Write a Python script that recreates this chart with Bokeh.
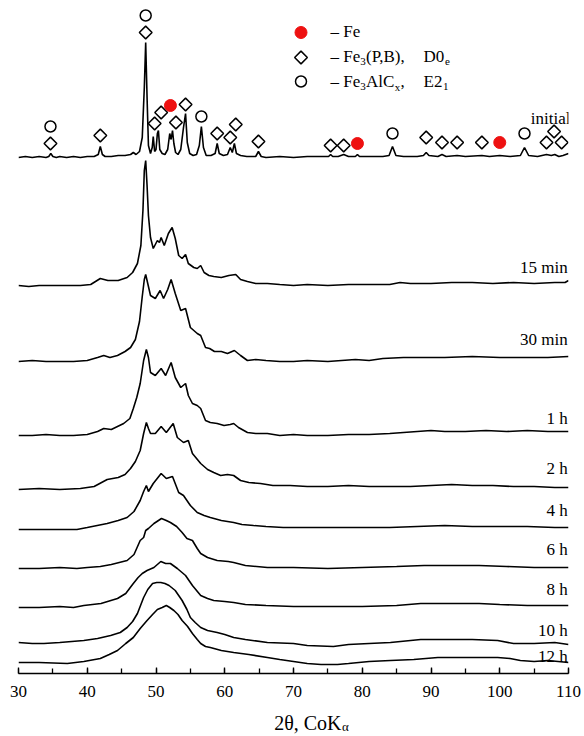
import numpy as np
from bokeh.plotting import figure
from bokeh.layouts import column
from bokeh.models import Range1d, SingleIntervalTicker, ColumnDataSource
from bokeh.core.properties import value
from bokeh.embed import file_html
from bokeh.resources import INLINE

FONT = "Liberation Serif"

# ---------------- data (2theta in degrees, intensity in arbitrary units) ----------------
tt_initial = [30, 31, 32, 33, 34, 34.4, 34.7, 35.0, 35.5, 36, 37, 38, 39, 40, 41, 41.6, 41.9, 42.2, 42.6,
              43.5, 44.5, 45.5, 46.3, 46.7, 47.1, 47.6, 48.0, 48.3, 48.5, 48.7, 48.9, 49.2, 49.45, 49.6,
              49.8, 50.0, 50.2, 50.35, 50.55, 50.9, 51.3, 51.7, 52.0, 52.2, 52.4, 52.6, 52.85, 53.2, 53.6,
              54.0, 54.3, 54.55, 54.9, 55.4, 55.9, 56.3, 56.6, 56.9, 57.3, 58.0, 58.6, 58.9, 59.2, 59.8,
              60.4, 60.8, 61.1, 61.4, 61.7, 62.3, 63.2, 64.5, 64.9, 65.3, 66, 68, 70, 72, 74, 75.1, 75.4,
              75.7, 76.5, 77.3, 78, 79.0, 79.3, 79.6, 81, 83, 83.9, 84.4, 84.9, 86, 88, 88.9, 89.3, 89.7,
              91, 91.6, 92.2, 93.8, 95, 97.4, 98.5, 100, 101.5, 103.0, 103.6, 104.2, 105.5, 106.8, 107.5,
              108.0, 108.6, 109.2, 110]
i_initial = [0, 1, 0, 1, 0, 1, 4, 1, 0, 1, 0, 1, 0, 1, 1, 3, 11, 3, 1,
             1, 2, 2, 3, 5, 3, 6, 20, 70, 115, 60, 12, 4, 10, 21,
             6, 8, 24, 27, 8, 4, 3, 8, 24, 18, 27, 14, 5, 3, 8,
             30, 44, 15, 4, 2, 3, 12, 31, 10, 2, 2, 4, 14, 4, 2,
             3, 10, 5, 14, 4, 2, 1, 1, 6, 1, 0, 1, 0, 1, 1, 1, 3,
             1, 1, 3, 1, 1, 3, 1, 1, 1, 2, 11, 2, 1, 1, 2, 5, 2,
             1, 3, 1, 2, 1, 2, 1, 2, 1, 2, 10, 2, 1, 3, 2,
             3, 1, 2, 4]

tt_15min = [30, 31.5, 33, 35, 37, 39, 40.5, 41.9, 43, 44.5, 45.8, 46.6, 47.3, 47.8, 48.1, 48.3, 48.5, 48.7,
            48.9, 49.2, 49.6, 50.2, 50.5, 50.75, 51.2, 51.8, 52.35, 52.8, 53.3, 53.8, 54.3, 54.7, 55.5,
            56.0, 56.5, 57.0, 57.7, 58.4, 59.5, 60.6, 61.6, 62.3, 63.3, 64.5, 66.2, 68, 70, 72, 75, 78,
            81, 84, 85.5, 87, 90, 93, 96, 99, 102, 105, 108, 109.5, 110]
i_15min = [0, -1, 0, 0, 0, 0, 1, 7, 5, 5, 8, 13, 22, 40, 75, 115, 125, 100,
           70, 48, 37, 45, 43, 48, 40, 52, 58, 47, 30, 27, 31, 22, 18,
           17, 20, 13, 10, 9, 8, 10, 11, 6, 4, 2, 2, 1, 0, 1, 0, 1,
           1, 1, 3, 2, 2, 3, 3, 2, 3, 2, 3, 3, 5]

tt_30min = [30, 32, 34, 36, 38, 40, 41.5, 42.4, 43.3, 44.4, 45.5, 46.3, 47.0, 47.6, 48.0, 48.3, 48.5, 48.8,
            49.2, 49.9, 50.6, 51.1, 51.7, 52.2, 52.8, 53.6, 54.3, 55.0, 56.0, 56.5, 57.2, 57.8, 58.5,
            59.5, 60.4, 61.4, 62.3, 63.3, 64.5, 66, 68, 70, 72, 75, 77, 79, 81, 83, 86, 89, 92, 96,
            100, 104, 107, 110]
i_30min = [0, 1, 0, 0, 0, 1, 4, 6, 4, 6, 10, 14, 22, 40, 65, 82, 87, 78,
           66, 63, 71, 63, 72, 82, 68, 51, 53, 34, 28, 26, 14, 13, 10,
           10, 8, 11, 6, 1, 2, 1, 0, 0, 1, 0, 1, 2, 1, 3, 4, 4, 4, 5,
           4, 4, 4, 5]

tt_1h = [30, 32, 34, 36, 38, 40, 41.5, 42.4, 43.5, 45.3, 46.2, 46.7, 47.2, 47.7, 48.2, 48.6, 48.9, 49.2,
         49.9, 50.75, 51.4, 52.2, 52.8, 53.6, 54.3, 54.7, 55.3, 56.0, 56.5, 57.2, 57.9, 58.9, 59.9,
         60.8, 61.3, 62.0, 63.3, 64.5, 66.2, 68, 70, 72, 75, 78, 81, 84, 86, 88, 90, 92, 95, 98, 101,
         104, 107, 110]
i_1h = [0, 0, 1, 0, 0, 1, 4, 7, 6, 12, 17, 27, 38, 52, 75, 86, 78, 63,
        60, 67, 60, 73, 58, 48, 52, 40, 32, 30, 27, 15, 13, 12, 10,
        11, 12, 8, 3, 2, 2, 0, 1, 0, 0, 1, 1, 2, 3, 4, 5, 4, 4, 5, 4,
        5, 4, 4]

tt_2h = [30, 33, 36, 39, 41, 42.9, 44.5, 45.5, 46.3, 47.0, 47.7, 48.2, 48.6, 48.9, 49.2, 49.9, 50.75,
         51.5, 52.5, 53.1, 54.0, 54.7, 55.3, 56.5, 57.5, 58.4, 59.4, 60.4, 61.3, 62.3, 63.5, 65.2,
         67, 69.5, 72, 75, 78, 81, 84, 87, 90, 93, 96, 99, 102, 105, 108, 110]
i_2h = [0, 1, 0, 1, 3, 10, 12, 15, 21, 28, 39, 56, 67, 61, 56, 56, 63,
        57, 66, 52, 47, 49, 36, 26, 20, 17, 14, 15, 14, 9, 7, 6,
        4, 4, 3, 3, 4, 3, 3, 3, 4, 5, 4, 4, 3, 3, 2, 2]

tt_4h = [30, 33, 36, 38.5, 40, 42.9, 44.5, 45.8, 46.8, 47.7, 48.2, 48.6, 48.9, 49.6, 50.75, 51.5, 52.4,
         53.3, 54.0, 55.0, 56.0, 57.0, 57.9, 59.5, 61.3, 62.5, 64.2, 66, 68.5, 72, 76, 80, 84, 88,
         92, 96, 100, 104, 108, 110]
i_4h = [0, 0, 0, 0, 2, 6, 9, 12, 18, 29, 38, 44, 38, 46, 56, 51, 53,
        37, 34, 24, 17, 14, 12, 9, 7, 5, 4, 3, 2, 2, 2, 2, 2, 3,
        4, 3, 3, 3, 2, 2]

tt_6h = [30, 33, 36, 38.5, 40, 41.9, 43.5, 45.8, 46.8, 47.7, 48.2, 48.5, 48.9, 49.7, 50.8, 51.5, 52.1,
         53.0, 53.8, 54.5, 55.3, 56.0, 56.5, 57.5, 58.9, 60.5, 61.3, 63, 66.2, 70, 75, 80, 85, 89,
         93, 97, 101, 105, 110]
i_6h = [0, 0, 1, 0, 1, 2, 4, 8, 14, 28, 31, 38, 40, 45, 50, 48, 46,
        42, 36, 30, 28, 20, 15, 11, 8, 7, 6, 3, 1, 1, 0, 1, 2, 3,
        3, 3, 2, 1, 1]

tt_8h = [30, 33, 36, 38, 39.5, 42, 44.4, 45.6, 46.7, 47.4, 48.0, 48.7, 49.7, 50.7, 51.4, 52.1, 53.1,
         54.3, 55.3, 56.5, 57.5, 58.4, 60, 61.3, 63, 66, 70, 75, 80, 85, 88.5, 93, 97, 100, 104, 110]
i_8h = [0, 0, 1, 0, 2, 4, 9, 14, 24, 30, 34, 37, 40, 46, 44, 44, 39,
        32, 22, 12, 9, 7, 6, 5, 3, 2, 1, 1, 1, 2, 4, 4, 4, 3, 2, 2]

tt_10h = [30, 32, 33.7, 36, 39.5, 41.5, 43.4, 44.8, 45.8, 46.6, 47.3, 48.2, 48.8, 49.5, 50.1, 50.7, 51.3,
          51.9, 52.8, 53.8, 54.5, 55.0, 55.7, 56.5, 57.5, 58.9, 60, 61.3, 63, 66.2, 70, 72, 75.8, 78,
          81, 84.1, 88.5, 92, 96, 99.7, 102, 105, 108, 110]
i_10h = [1, 0, 0, 1, 3, 5, 8, 11, 16, 22, 30, 46, 54, 60, 61, 61, 60,
         58, 53, 43, 34, 26, 21, 16, 13, 11, 9, 6, 4, 1, 0, -2, -3, -1,
         0, 1, 4, 4, 4, 3, 0, 0, 1, -1]

tt_12h = [30, 33, 37.1, 39.5, 41.9, 43.2, 44.4, 45.6, 46.7, 47.7, 48.7, 49.5, 50.2, 50.9, 51.5, 52.0,
          52.6, 53.2, 53.8, 54.6, 55.3, 56.0, 56.5, 57.2, 57.9, 59.5, 61.3, 63.5, 66.2, 68, 70, 72, 74,
          76.4, 78, 81, 84.1, 87.5, 91, 95, 99.7, 101.5, 103, 105, 107, 110]
i_12h = [0, 0, -1, 1, 4, 8, 12, 19, 25, 34, 42, 48, 53, 55, 57, 55,
         52, 48, 42, 36, 29, 23, 19, 16, 15, 12, 10, 8, 5, 3, 1, -1, -2,
         -2, -1, 1, 2, 3, 5, 5, 5, 4, 2, 1, 2, 0]

labels = ["initial", "15 min", "30 min", "1 h", "2 h", "4 h", "6 h", "8 h", "10 h", "12 h"]
offsets = [516, 388, 312, 238, 184, 144, 105, 66, 30, 11]
label_y = [555, 406, 334, 255, 205, 163, 124, 84, 43, 17]

# phase markers (2theta, height in plot units)
fe_tt = [52.1, 79.3, 100.0]
fe_h = [568, 530, 531]
d0e_tt = [34.65, 41.9, 48.5, 49.8, 50.75, 52.9, 54.3, 58.9, 60.8, 61.6, 64.9, 75.4, 77.3, 89.3, 91.6,
          93.8, 97.4, 106.8, 107.9, 109.0]
d0e_h = [530, 538, 641, 550, 561, 551, 569, 540, 536, 549, 532, 528, 528, 536, 531,
         531, 531, 531, 542, 531]
e21_tt = [34.65, 48.5, 56.6, 84.4, 103.6]
e21_h = [547, 658, 557, 540, 540]

# ---------------- main figure ----------------
W = 584
H_MAIN = 706
p = figure(width=W, height=H_MAIN, output_backend="svg", toolbar_location=None,
           x_range=Range1d(30, 110), y_range=Range1d(0, 673),
           min_border_left=18, min_border_right=16, min_border_top=0, min_border_bottom=33,
           y_axis_location=None)
p.outline_line_color = None
p.grid.visible = False

ax = p.xaxis[0]
ax.ticker = SingleIntervalTicker(interval=10, num_minor_ticks=2)
ax.axis_line_width = 1.5
ax.axis_line_color = "black"
ax.major_tick_in = 6
ax.major_tick_out = 0
ax.minor_tick_in = 5
ax.minor_tick_out = 0
ax.major_tick_line_width = 1.3
ax.minor_tick_line_width = 1.3
ax.major_label_text_font = FONT
ax.major_label_text_font_size = "17px"
ax.major_label_text_color = "black"
ax.major_label_standoff = 12

curves = [(tt_initial, i_initial), (tt_15min, i_15min), (tt_30min, i_30min), (tt_1h, i_1h),
          (tt_2h, i_2h), (tt_4h, i_4h), (tt_6h, i_6h), (tt_8h, i_8h), (tt_10h, i_10h), (tt_12h, i_12h)]
for (tt, ii), off in zip(curves, offsets):
    p.line(np.array(tt), np.array(ii) + off, line_color="black", line_width=1.6)

# markers
p.scatter(d0e_tt, d0e_h, marker="square", size=9, angle=np.pi / 4, fill_color="white",
          line_color="black", line_width=1.5)
p.scatter(e21_tt, e21_h, marker="circle", size=11, fill_color="white",
          line_color="black", line_width=1.5)
p.scatter(fe_tt, fe_h, marker="circle", size=12, fill_color="#ee1111", line_color="#ee1111")

# curve labels
src = ColumnDataSource(dict(x=[109.9] * (len(labels) - 1), y=label_y[1:], t=labels[1:]))
p.text(x="x", y="y", text="t", source=src, text_align="right", text_baseline="middle",
       text_font=value(FONT), text_font_size="17px", text_color="black")
p.text(x=[107.4], y=[label_y[0]], text=[labels[0]], text_align="center", text_baseline="middle",
       text_font=value(FONT), text_font_size="17px", text_color="black")

# legend (layout positions in pixels converted to data coordinates)
def X(px):
    return 30 + (px - 18) / 6.875

def Y(py):
    return 673 - py

p.scatter([X(300.5)], [Y(32)], marker="circle", size=12, fill_color="#ee1111", line_color="#ee1111")
p.scatter([X(300.5)], [Y(57)], marker="square", size=9, angle=np.pi / 4, fill_color="white",
          line_color="black", line_width=1.5)
p.scatter([X(300.5)], [Y(81)], marker="circle", size=11, fill_color="white",
          line_color="black", line_width=1.5)

main_px = [330, 330, 365.5, 423, 330, 365.5, 400, 423]
main_py = [31, 56, 56, 56, 81, 81, 81, 81]
main_tx = ["– Fe", "– Fe", "(P,B),", "D0", "– Fe", "AlC", ",", "E2"]
p.text(x=[X(v) for v in main_px], y=[Y(v) for v in main_py], text=main_tx, text_align="left",
       text_baseline="middle", text_font=value(FONT), text_font_size="17px", text_color="black")
sub_px = [359.8, 444.5, 359.8, 394.3, 442.5]
sub_py = [61, 61, 86, 86, 86]
sub_tx = ["3", "e", "3", "x", "1"]
p.text(x=[X(v) for v in sub_px], y=[Y(v) for v in sub_py], text=sub_tx, text_align="left",
       text_baseline="middle", text_font=value(FONT), text_font_size="11px", text_color="black")

# ---------------- axis title strip: 2θ, CoKα ----------------
t = figure(width=W, height=736 - H_MAIN, output_backend="svg", toolbar_location=None,
           x_range=Range1d(30, 110), y_range=Range1d(0, 736 - H_MAIN),
           min_border_left=18, min_border_right=16, min_border_top=0, min_border_bottom=0,
           x_axis_location=None, y_axis_location=None)
t.outline_line_color = None
t.grid.visible = False
t.text(x=[X(341)], y=[736 - 722], text=["2θ, CoK"], text_align="right", text_baseline="middle",
       text_font=value(FONT), text_font_size="20px", text_color="black")
t.text(x=[X(341.5)], y=[736 - 726], text=["α"], text_align="left", text_baseline="middle",
       text_font=value(FONT), text_font_size="13px", text_color="black")

layout = column(p, t, spacing=0)
open("out.html", "w").write(file_html(layout, INLINE))
